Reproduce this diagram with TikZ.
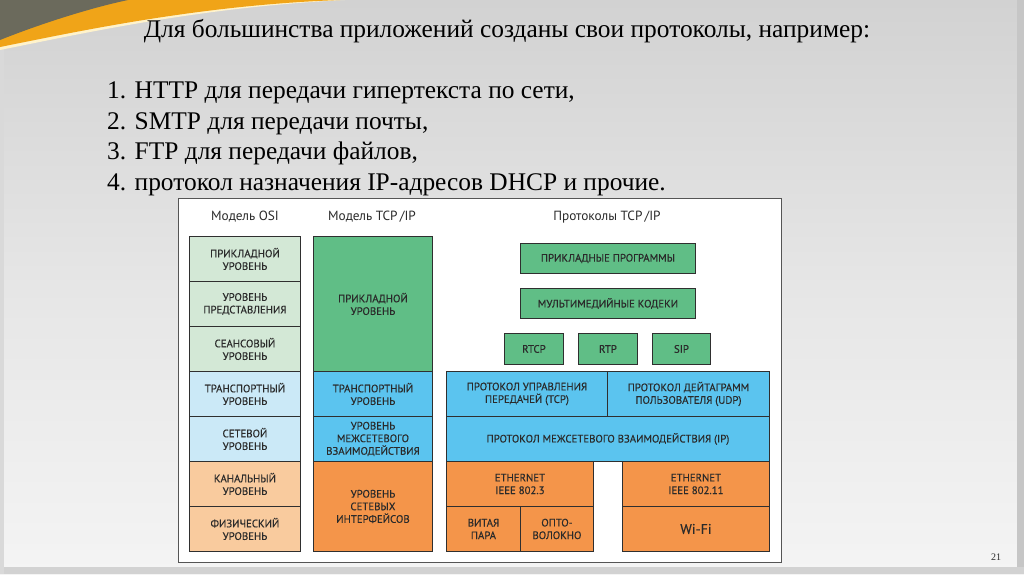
\documentclass[tikz,border=0pt]{standalone}
\usepackage{fontspec}
\setmainfont{Liberation Serif}
\newfontfamily\lblfont[FakeBold=0.35]{PT Sans}
\newfontfamily\hdrfont{PT Sans}
\definecolor{bgtop}{HTML}{D2D2D2}
\definecolor{bgmid}{HTML}{E6E6E6}
\definecolor{bgbot}{HTML}{F4F4F4}
\definecolor{darkcorner}{HTML}{6B6A5C}
\definecolor{goldband}{HTML}{F0A418}
\definecolor{creamline}{HTML}{FFF3CC}
\definecolor{framec}{HTML}{555555}
\definecolor{linec}{HTML}{2F2F2F}
\definecolor{txtc}{HTML}{2A2A2A}
\definecolor{lgreen}{HTML}{D3E8D6}
\definecolor{lblue}{HTML}{CBE9F7}
\definecolor{lorange}{HTML}{F9CB9E}
\definecolor{dgreen}{HTML}{60BE86}
\definecolor{dblue}{HTML}{5BC4EF}
\definecolor{dorange}{HTML}{F4954A}
\begin{document}
\begin{tikzpicture}[x=1pt,y=-1pt,
  box/.style={draw=linec, line width=0.9pt, inner sep=1pt, align=center,
    font=\lblfont\fontsize{10.8}{12.6}\selectfont, text=txtc, anchor=north west},
  hdr/.style={font=\hdrfont\fontsize{13.3}{15}\selectfont, text=txtc},
  ttl/.style={font=\fontsize{25.4}{30}\selectfont, text=black, inner sep=0pt}]
% background
\useasboundingbox (0,0) rectangle (1024,574);
\shade[top color=bgtop, bottom color=bgbot, middle color=bgmid] (0,0) rectangle (1024,574);
\fill[gray!45] (1017,0) rectangle (1024,574);
\fill[gray!35] (0,567) rectangle (1024,574);
\fill[gray!30] (0,0) rectangle (4,574);
% corner decoration
\fill[creamline] (0,50) .. controls (80,34) and (200,7) .. (345,0) -- (0,0) -- cycle;
\fill[goldband] (0,47) .. controls (80,31) and (200,5) .. (340,0) -- (0,0) -- cycle;
\fill[darkcorner] (0,40) .. controls (40,24) and (90,8) .. (128,0) -- (0,0) -- cycle;
% title and list
\node[ttl, anchor=base] (title) at (507,37) {Для большинства приложений созданы свои протоколы, например:};
\node[ttl, anchor=base west] (l1) at (107,98) {1. HTTP для передачи гипертекста по сети,};
\node[ttl, anchor=base west] (l2) at (107,129) {2. SMTP для передачи почты,};
\node[ttl, anchor=base west] (l3) at (107,159) {3. FTP для передачи файлов,};
\node[ttl, anchor=base west] (l4) at (107,190) {4. протокол назначения IP-адресов DHCP и прочие.};
% outer frame
\node[draw=framec, fill=white, line width=1pt, minimum width=603pt, minimum height=364pt, anchor=north west, inner sep=0pt] (frame) at (178,198) {};
% headers
\node[hdr] (h1) at (245,217) {Модель OSI};
\node[hdr] (h2) at (372,217) {Модель TCP\,/IP};
\node[hdr] (h3) at (607,217) {Протоколы TCP\,/IP};
% OSI column
\node[box, fill=lgreen, minimum width=111pt, minimum height=45pt] (o1) at (189,236) {ПРИКЛАДНОЙ\\УРОВЕНЬ};
\node[box, fill=lgreen, minimum width=111pt, minimum height=45pt] (o2) at (189,281) {УРОВЕНЬ\\ПРЕДСТАВЛЕНИЯ};
\node[box, fill=lgreen, minimum width=111pt, minimum height=45pt] (o3) at (189,326) {СЕАНСОВЫЙ\\УРОВЕНЬ};
\node[box, fill=lblue, minimum width=111pt, minimum height=45pt] (o4) at (189,371) {ТРАНСПОРТНЫЙ\\УРОВЕНЬ};
\node[box, fill=lblue, minimum width=111pt, minimum height=45pt] (o5) at (189,416) {СЕТЕВОЙ\\УРОВЕНЬ};
\node[box, fill=lorange, minimum width=111pt, minimum height=45pt] (o6) at (189,461) {КАНАЛЬНЫЙ\\УРОВЕНЬ};
\node[box, fill=lorange, minimum width=111pt, minimum height=45pt] (o7) at (189,506) {ФИЗИЧЕСКИЙ\\УРОВЕНЬ};
% TCP/IP model column
\node[box, fill=dgreen, minimum width=119pt, minimum height=135pt] (t1) at (313,236) {ПРИКЛАДНОЙ\\УРОВЕНЬ};
\node[box, fill=dblue, minimum width=119pt, minimum height=45pt] (t2) at (313,371) {ТРАНСПОРТНЫЙ\\УРОВЕНЬ};
\node[box, fill=dblue, minimum width=119pt, minimum height=45pt] (t3) at (313,416) {УРОВЕНЬ\\МЕЖСЕТЕВОГО\\ВЗАИМОДЕЙСТВИЯ};
\node[box, fill=dorange, minimum width=119pt, minimum height=90pt] (t4) at (313,461) {УРОВЕНЬ\\СЕТЕВЫХ\\ИНТЕРФЕЙСОВ};
% protocols column
\node[box, fill=dgreen, minimum width=175pt, minimum height=30pt] (p1) at (520,243) {ПРИКЛАДНЫЕ ПРОГРАММЫ};
\node[box, fill=dgreen, minimum width=175pt, minimum height=30pt] (p2) at (520,288) {МУЛЬТИМЕДИЙНЫЕ КОДЕКИ};
\node[box, fill=dgreen, minimum width=59pt, minimum height=31pt] (p3) at (504,333) {RTCP};
\node[box, fill=dgreen, minimum width=59pt, minimum height=31pt] (p4) at (578,333) {RTP};
\node[box, fill=dgreen, minimum width=58pt, minimum height=31pt] (p5) at (652,333) {SIP};
\node[box, fill=dblue, minimum width=161pt, minimum height=45pt] (p6) at (446,371) {ПРОТОКОЛ УПРАВЛЕНИЯ\\ПЕРЕДАЧЕЙ (TCP)};
\node[box, fill=dblue, minimum width=162pt, minimum height=45pt] (p7) at (607,371) {ПРОТОКОЛ ДЕЙТАГРАММ\\ПОЛЬЗОВАТЕЛЯ (UDP)};
\node[box, fill=dblue, minimum width=323pt, minimum height=45pt] (p8) at (446,416) {ПРОТОКОЛ МЕЖСЕТЕВОГО ВЗАИМОДЕЙСТВИЯ (IP)};
\node[box, fill=dorange, minimum width=147pt, minimum height=45pt] (p9) at (446,461) {ETHERNET\\IEEE 802.3};
\node[box, fill=dorange, minimum width=74pt, minimum height=45pt] (p10) at (446,506) {ВИТАЯ\\ПАРА};
\node[box, fill=dorange, minimum width=73pt, minimum height=45pt] (p11) at (520,506) {ОПТО-\\ВОЛОКНО};
\node[box, fill=dorange, minimum width=147pt, minimum height=45pt] (p12) at (622,461) {ETHERNET\\IEEE 802.11};
\node[box, fill=dorange, minimum width=147pt, minimum height=45pt, font=\lblfont\fontsize{14}{16}\selectfont] (p13) at (622,506) {Wi-Fi};
% page number
\node[font=\fontsize{10}{12}\selectfont, text=txtc] (pg) at (996,557) {21};
\end{tikzpicture}
\end{document}
